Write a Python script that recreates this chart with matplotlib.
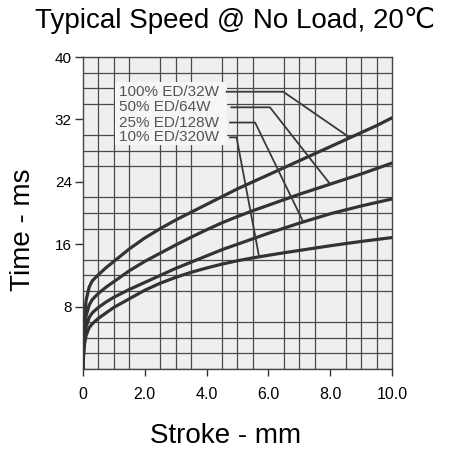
import numpy as np
import matplotlib
matplotlib.use('Agg')
import matplotlib.pyplot as plt
from matplotlib.patches import Rectangle

plt.rcParams['font.family'] = ['Liberation Sans', 'DejaVu Sans']

# stroke (mm) sample points, shared by all curves
stroke = [0, 0.02, 0.05, 0.1, 0.2, 0.3, 0.5, 0.75, 1, 1.5, 2, 2.5, 3, 3.5, 4,
          4.5, 5, 5.5, 6, 6.5, 7, 7.5, 8, 8.5, 9, 9.5, 10]

# time (ms) per duty cycle
t_100 = [0, 3.5, 6.5, 8.8, 10.5, 11.3, 12.1, 13.0, 13.8, 15.4, 16.8, 18.0, 19.1, 20.1, 21.1,
         22.1, 23.1, 24.0, 24.9, 25.8, 26.7, 27.6, 28.5, 29.4, 30.3, 31.2, 32.2]
t_50 = [0, 2.8, 5.0, 6.8, 8.2, 8.9, 9.7, 10.5, 11.2, 12.6, 13.8, 14.85, 15.9, 16.9, 17.85,
        18.75, 19.55, 20.3, 21.0, 21.7, 22.4, 23.05, 23.7, 24.35, 25.0, 25.7, 26.4]
t_25 = [0, 2.2, 4.0, 5.4, 6.6, 7.2, 7.9, 8.6, 9.2, 10.2, 11.1, 12.0, 12.9, 13.7, 14.5,
        15.3, 16.0, 16.7, 17.4, 18.05, 18.7, 19.3, 19.9, 20.4, 20.9, 21.35, 21.8]
t_10 = [0, 1.8, 3.2, 4.3, 5.3, 5.8, 6.5, 7.2, 7.9, 9.0, 10.1, 11.0, 11.75, 12.4, 12.95,
        13.45, 13.88, 14.25, 14.58, 14.9, 15.2, 15.5, 15.8, 16.08, 16.35, 16.6, 16.85]

labels = ['100% ED/32W', '50% ED/64W', '25% ED/128W', '10% ED/320W']
label_y = [35.55, 33.55, 31.6, 29.7]
# leader lines: start x, kink x, x where it meets the curve
lead_start = [4.65, 4.8, 4.76, 4.76]
lead_kink = [6.48, 6.05, 5.57, 4.97]
lead_end = [8.64, 8.0, 7.13, 5.7]

curves = [t_100, t_50, t_25, t_10]

fig = plt.figure(figsize=(4.56, 4.55), dpi=100)
fig.patch.set_facecolor('white')
ax = fig.add_axes([0.182, 0.189, 0.6776, 0.6857])
ax.set_facecolor('#efefef')

ax.set_xlim(0, 10)
ax.set_ylim(0, 40)

ax.set_xticks(np.arange(0, 10.01, 0.5), minor=True)
ax.set_yticks(np.arange(0, 40.01, 2), minor=True)
ax.grid(which='minor', color='#4a4a4a', linewidth=0.9, zorder=1)
ax.tick_params(which='minor', length=0)

ax.set_xticks([0, 2, 4, 6, 8, 10])
ax.set_xticklabels(['0', '2.0', '4.0', '6.0', '8.0', '10.0'], fontsize=11.5)
ax.set_yticks([8, 16, 24, 32, 40])
ax.set_yticklabels(['8', '16', '24', '32', '40'], fontsize=11)
ax.tick_params(axis='x', which='major', length=5, width=1, pad=8, color='#333333')
ax.tick_params(axis='y', which='major', length=6, width=1, pad=2, color='#333333')

for s in ax.spines.values():
    s.set_color('#444444')
    s.set_linewidth(1)

# label box
ax.add_patch(Rectangle((1.05, 28.7), 3.6, 8.1, facecolor='#f6f6f6',
                       edgecolor='none', zorder=2))

for y in curves:
    ax.plot(stroke, y, color='#333333', linewidth=2.3, zorder=3,
            solid_joinstyle='round', solid_capstyle='round')

for lab, ly, xs, xk, xe, y in zip(labels, label_y, lead_start, lead_kink, lead_end, curves):
    ax.text(1.17, ly, lab, fontsize=11, color='#555555', va='center', ha='left', zorder=4)
    ye = np.interp(xe, stroke, y)
    ax.plot([xs, xk, xe], [ly, ly, ye], color='#3a3a3a', linewidth=1.3, zorder=3)

fig.text(0.515, 0.956, 'Typical Speed @ No Load, 20\u2103', fontsize=20, ha='center', va='center')
fig.text(0.05, 0.495, 'Time - ms', fontsize=20, ha='center', va='center', rotation=90)
fig.text(0.494, 0.042, 'Stroke - mm', fontsize=20, ha='center', va='center')

fig.savefig('out.png', dpi=100)
